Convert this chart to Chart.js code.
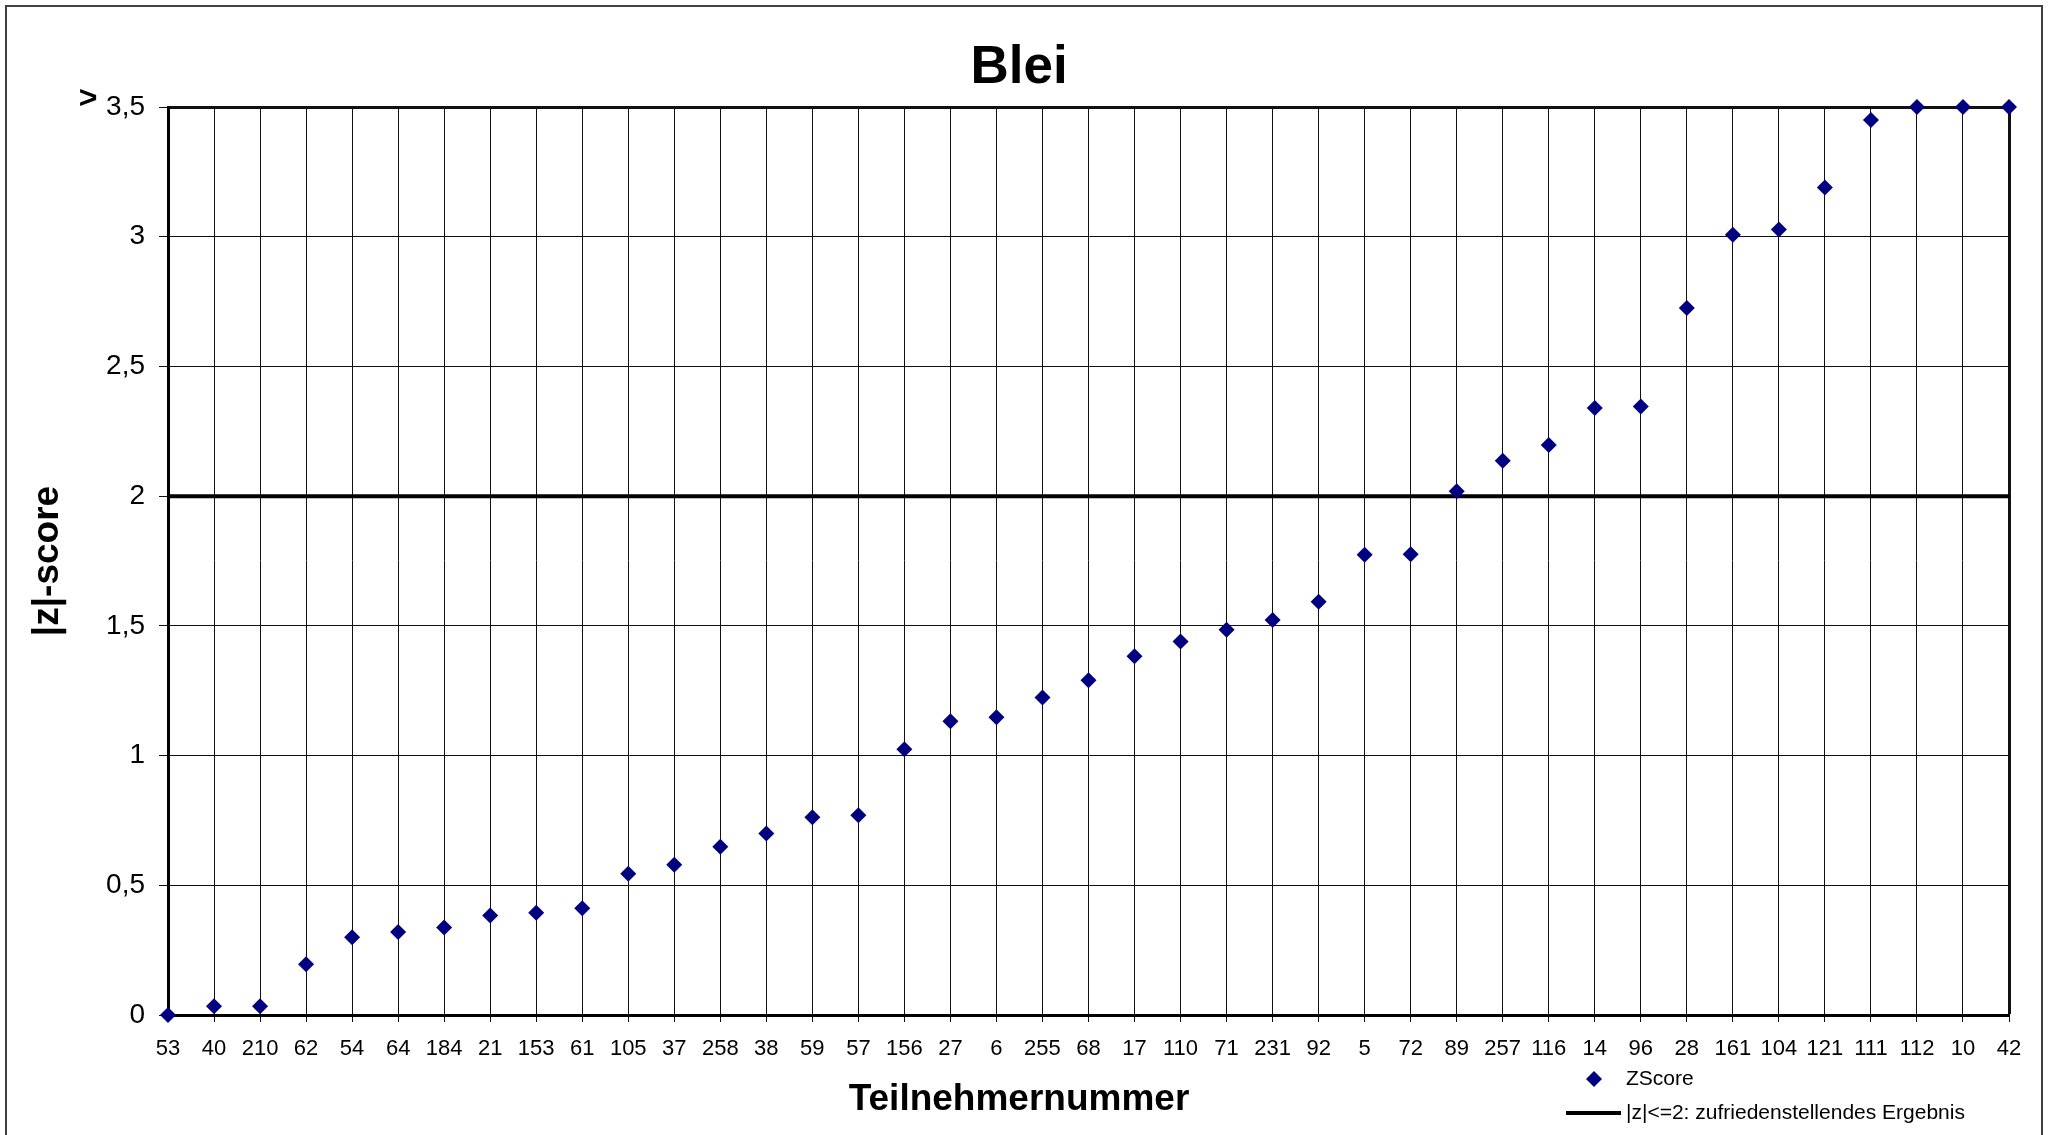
<!DOCTYPE html>
<html>
<head>
<meta charset="utf-8">
<title>Blei</title>
<script src="https://cdn.jsdelivr.net/npm/chart.js@4.4.1/dist/chart.umd.min.js"></script>
<style>
	html, body { margin: 0; padding: 0; background: #ffffff; }
	canvas { display: block; }
</style>
</head>
<body>
<canvas id="graphCanvas" width="2049" height="1135"></canvas>
<script>
//	Data
var participants = ['53', '40', '210', '62', '54', '64', '184', '21', '153', '61',
	'105', '37', '258', '38', '59', '57', '156', '27', '6', '255',
	'68', '17', '110', '71', '231', '92', '5', '72', '89', '257',
	'116', '14', '96', '28', '161', '104', '121', '111', '112', '10', '42'];
var zScores = [0, 0.034, 0.034, 0.196, 0.30, 0.32, 0.337, 0.384, 0.394, 0.411,
	0.544, 0.579, 0.649, 0.70, 0.762, 0.77, 1.024, 1.132, 1.148, 1.224,
	1.29, 1.383, 1.44, 1.485, 1.523, 1.593, 1.774, 1.776, 2.019, 2.136,
	2.197, 2.34, 2.346, 2.725, 3.008, 3.028, 3.19, 3.45, 3.5, 3.5, 3.5];
var yTicks = [0, 0.5, 1, 1.5, 2, 2.5, 3, 3.5];
var limit = 2;

var labelTexts = {
	title: 'Blei',
	xTitle: 'Teilnehmernummer',
	yTitle: '|z|-score',
	scoreLegend: 'ZScore',
	limitLegend: '|z|<=2: zufriedenstellendes Ergebnis',
	overflow: '>'
};

var fontFamily = '"Liberation Sans", Arial, Helvetica, sans-serif';
var plotColors = { score: '#000080', limit: '#000000', grid: '#111111', frame: '#404040' };

//	Formatters
var commaFormatter = function (value) {
	return value.toString().replace('.', ',');
};

//	Extra drawing: outer frame, ">" marker on top tick, legend
var decorations = {
	id: 'decorations',
	beforeDraw: function (chart) {
		var ctx = chart.ctx;
		ctx.save();
		ctx.strokeStyle = plotColors.frame;
		ctx.lineWidth = 2;
		ctx.strokeRect(6, 6, 2036, 1140);
		ctx.restore();
	},
	afterDraw: function (chart) {
		var ctx = chart.ctx;
		var yScale = chart.scales.y;
		var top = yScale.getPixelForValue(yTicks[yTicks.length - 1]);
		ctx.save();
		ctx.fillStyle = '#000000';
		ctx.font = 'bold 32px ' + fontFamily;
		ctx.textAlign = 'center';
		ctx.textBaseline = 'middle';
		ctx.fillText(labelTexts.overflow, 88, top - 8);

		// legend
		var lx = 1594, ly1 = 1079, ly2 = 1113;
		ctx.fillStyle = plotColors.score;
		ctx.beginPath();
		ctx.moveTo(lx, ly1 - 8);
		ctx.lineTo(lx + 8, ly1);
		ctx.lineTo(lx, ly1 + 8);
		ctx.lineTo(lx - 8, ly1);
		ctx.closePath();
		ctx.fill();
		ctx.strokeStyle = plotColors.limit;
		ctx.lineWidth = 4;
		ctx.beginPath();
		ctx.moveTo(1566, ly2);
		ctx.lineTo(1621, ly2);
		ctx.stroke();
		ctx.fillStyle = '#000000';
		ctx.font = '21px ' + fontFamily;
		ctx.textAlign = 'left';
		ctx.fillText(labelTexts.scoreLegend, 1626, ly1);
		ctx.fillText(labelTexts.limitLegend, 1626, ly2);
		ctx.restore();
	}
};

var graphSettings = {
	type: 'line',
	data: {
		labels: participants,
		datasets: [
			{
				label: labelTexts.scoreLegend,
				data: zScores,
				showLine: false,
				pointStyle: 'rectRot',
				pointRadius: 8,
				pointHoverRadius: 8,
				pointBorderWidth: 0,
				pointBackgroundColor: plotColors.score,
				pointBorderColor: plotColors.score,
				clip: false,
				order: 0
			},
			{
				label: labelTexts.limitLegend,
				data: [
					{ x: participants[0], y: limit },
					{ x: participants[participants.length - 1], y: limit }
				],
				borderColor: plotColors.limit,
				borderWidth: 4,
				pointRadius: 0,
				fill: false,
				order: 1
			}
		]
	},
	options: {
		responsive: false,
		animation: false,
		events: [],
		layout: { padding: { left: 29, right: 40, top: 0, bottom: 0 } },
		scales: {
			x: {
				type: 'category',
				offset: false,
				afterFit: function (scale) { scale.height = 62.6; },
				grid: {
					display: true,
					color: plotColors.grid,
					lineWidth: function (c) { return c.index === participants.length - 1 ? 3 : 1; },
					tickLength: 7,
					tickWidth: 1,
					tickColor: plotColors.grid
				},
				border: { display: true, color: '#000000', width: 3 },
				ticks: {
					color: '#000000',
					font: { family: fontFamily, size: 22 },
					padding: 14,
					maxRotation: 0,
					autoSkip: false
				}
			},
			y: {
				type: 'linear',
				min: 0,
				max: 3.5,
				afterFit: function (scale) { scale.width = 139; },
				afterBuildTicks: function (scale) {
					scale.ticks = yTicks.map(function (v) { return { value: v }; });
				},
				grid: {
					color: plotColors.grid,
					lineWidth: function (c) { return c.tick && c.tick.value === 3.5 ? 3 : 1; },
					tickLength: 9,
					tickWidth: 1,
					tickColor: plotColors.grid
				},
				border: { display: true, color: '#000000', width: 3 },
				ticks: {
					color: '#000000',
					font: { family: fontFamily, size: 28 },
					padding: 14,
					callback: function (value) { return commaFormatter(value); }
				},
				title: {
					display: true,
					text: labelTexts.yTitle,
					color: '#000000',
					font: { family: fontFamily, size: 37, weight: 'bold' },
					padding: { top: -3, bottom: 0 }
				}
			}
		},
		plugins: {
			legend: { display: false },
			tooltip: { enabled: false },
			title: {
				display: true,
				text: labelTexts.title,
				color: '#000000',
				font: { family: fontFamily, size: 53, weight: 'bold', lineHeight: 1.2 },
				padding: { top: 37, bottom: 6.4 }
			},
			subtitle: {
				display: true,
				position: 'bottom',
				text: labelTexts.xTitle,
				color: '#000000',
				font: { family: fontFamily, size: 37, weight: 'bold', lineHeight: 1.2 },
				padding: { top: 0, bottom: 13 }
			}
		}
	},
	plugins: [decorations]
};

var theGraph = new Chart(document.getElementById('graphCanvas'), graphSettings);
</script>
</body>
</html>
